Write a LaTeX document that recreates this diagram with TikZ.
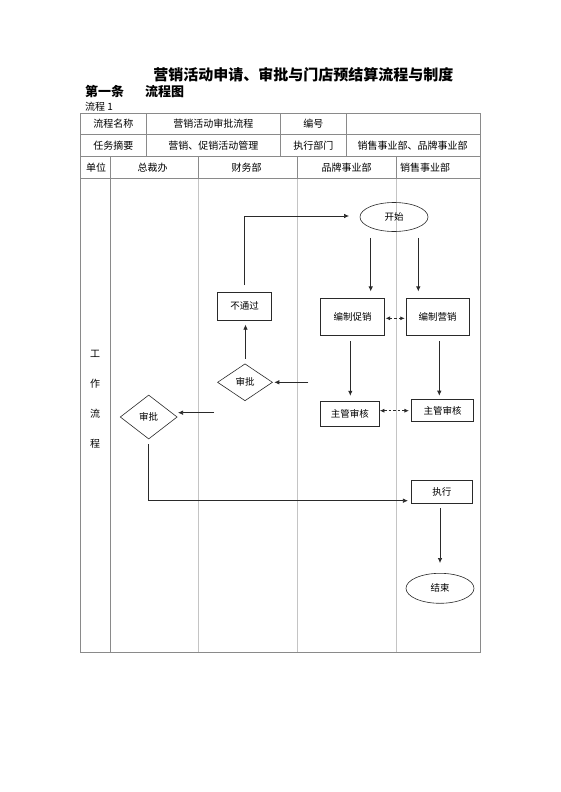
\documentclass[tikz,border=0pt]{standalone}
\usepackage{fontspec}
\setmainfont{Noto Sans CJK SC}
\usetikzlibrary{shapes.geometric,arrows.meta,calc}
\definecolor{tblgray}{HTML}{8A8A8A}
\definecolor{lanegray}{HTML}{C4C4C4}
\definecolor{inkc}{HTML}{2A2A2A}
\begin{document}
\begin{tikzpicture}[x=1pt,y=-1pt,
  tline/.style={draw=tblgray,line width=0.7pt},
  lline/.style={draw=lanegray,line width=0.7pt},
  ttext/.style={font=\fontsize{10}{12}\selectfont,inner sep=0pt},
  boxn/.style={draw=inkc,line width=0.6pt,rectangle,inner sep=0pt,font=\fontsize{9.5}{11}\selectfont},
  termn/.style={draw=inkc,line width=0.6pt,ellipse,inner sep=0pt,font=\fontsize{9.5}{11}\selectfont},
  dian/.style={draw=inkc,line width=0.6pt,diamond,aspect=1.5,inner sep=0pt,font=\fontsize{9.5}{11}\selectfont},
  arr/.style={draw=inkc,line width=0.7pt,-{Latex[length=5pt,width=4.5pt]}},
  darr/.style={draw=inkc,line width=0.7pt,dashed,dash pattern=on 2.5pt off 2pt,{Latex[length=4.5pt,width=4pt]}-{Latex[length=4.5pt,width=4pt]}}
]
\useasboundingbox (0,0) rectangle (560,792);
\fill[white] (0,0) rectangle (560,792);

% headings
\node[font=\fontsize{15}{18}\selectfont\bfseries,inner sep=0pt] (title) at (303.3,75) {营销活动申请、审批与门店预结算流程与制度};
\node[font=\fontsize{13}{15}\selectfont\bfseries,inner sep=0pt,anchor=west] (art) at (85,91.5) {第一条};
\node[font=\fontsize{13}{15}\selectfont\bfseries,inner sep=0pt,anchor=west] (lct) at (145,91.5) {流程图};
\node[font=\fontsize{10}{12}\selectfont,inner sep=0pt,anchor=west] (lc1) at (85,106.5) {流程 1};

% table
\draw[tline] (80,113) rectangle (480,652);
\draw[tline] (80,134) -- (480,134);
\draw[tline] (80,156.7) -- (480,156.7);
\draw[tline] (80,178.5) -- (480,178.5);
\foreach \xx in {146.7,280,346.7} \draw[tline] (\xx,113) -- (\xx,156.7);
\draw[tline] (110,156.7) -- (110,652);
\foreach \xx in {198,297.7,396} {
  \draw[tline] (\xx,156.7) -- (\xx,178.5);
  \draw[lline] (\xx,178.5) -- (\xx,652);
}

\node[ttext] (t11) at (113.3,123.5) {流程名称};
\node[ttext] (t12) at (213.3,123.5) {营销活动审批流程};
\node[ttext] (t13) at (313.3,123.5) {编号};
\node[ttext] (t21) at (113.3,145.5) {任务摘要};
\node[ttext] (t22) at (213.3,145.5) {营销、促销活动管理};
\node[ttext] (t23) at (313.3,145.5) {执行部门};
\node[ttext] (t24) at (412.5,145.5) {销售事业部、品牌事业部};
\node[ttext] (h1) at (96,167.5) {单位};
\node[ttext] (h2) at (152.5,167.5) {总裁办};
\node[ttext] (h3) at (246.7,167.5) {财务部};
\node[ttext] (h4) at (346.7,167.5) {品牌事业部};
\node[ttext] (h5) at (425,167.5) {销售事业部};

\node[ttext] (v1) at (95,354) {工};
\node[ttext] (v2) at (95,383.5) {作};
\node[ttext] (v3) at (95,414) {流};
\node[ttext] (v4) at (95,444) {程};

% shapes
\node[termn,minimum width=68pt,minimum height=29pt] (start) at (394,217) {开始};
\node[boxn,minimum width=54.4pt,minimum height=27.7pt] (np) at (244.5,306.2) {不通过};
\node[boxn,minimum width=63.6pt,minimum height=37.4pt] (bzcx) at (352.5,317) {编制促销};
\node[boxn,minimum width=63.3pt,minimum height=37.4pt] (bzyx) at (437.7,317) {编制营销};
\node[boxn,minimum width=58.3pt,minimum height=24.3pt] (zg1) at (349.9,413.9) {主管审核};
\node[boxn,minimum width=61.6pt,minimum height=22.4pt] (zg2) at (442.5,410.5) {主管审核};
\node[dian,minimum width=55pt,minimum height=37pt] (sp1) at (245,382.3) {审批};
\node[dian,minimum width=57pt,minimum height=44pt] (sp2) at (148.7,417) {审批};
\node[boxn,minimum width=61.7pt,minimum height=22.6pt] (zx) at (441.8,492) {执行};
\node[termn,minimum width=68pt,minimum height=30pt] (end) at (440,588.3) {结束};

% x guides
\coordinate (xa) at (370.7,0);
\coordinate (xb) at (418.3,0);
\coordinate (xc) at (350.3,0);
\coordinate (xd) at (439.3,0);
\coordinate (xe) at (245.5,0);
\coordinate (ya) at (0,216);
\coordinate (yb) at (0,500.7);
\coordinate (in1) at (308.3,382.3);
\coordinate (in2) at (214,412.7);

% connectors
\draw[arr,shorten <=6pt,shorten >=6.6pt] (xa |- start.south) -- (xa |- bzcx.north);
\draw[arr,shorten <=6pt,shorten >=6.6pt] (xb |- start.south) -- (xb |- bzyx.north);
\draw[darr,shorten <=1pt,shorten >=1pt] (bzcx.east |- 0,318.3) -- (bzyx.west |- 0,318.3);
\draw[arr,shorten <=5pt,shorten >=5.7pt] (xc |- bzcx.south) -- (xc |- zg1.north);
\draw[arr,shorten <=5pt,shorten >=3.3pt] (xd |- bzyx.south) -- (xd |- zg2.north);
\draw[darr,shorten <=0.5pt,shorten >=2.5pt] (zg1.east |- 0,410.7) -- (zg2.west |- 0,410.7);
\draw[arr,shorten >=1.5pt] (in1) -- (sp1.east);
\draw[arr,shorten <=4.7pt,shorten >=4.3pt] (xe |- sp1.north) -- (xe |- np.south);
\draw[arr,shorten >=10.7pt] ([yshift=7pt]np.north) -- (np.north |- ya) -- (start.west |- ya);
\draw[arr,shorten >=0.5pt] (in2) -- (sp2.east |- in2);
\draw[arr,shorten <=5pt,shorten >=2.7pt] (sp2.south) -- (sp2.south |- yb) -- (zx.west |- yb);
\draw[arr,shorten <=4.4pt,shorten >=10pt] (end.north |- zx.south) -- (end.north);
\end{tikzpicture}
\end{document}
